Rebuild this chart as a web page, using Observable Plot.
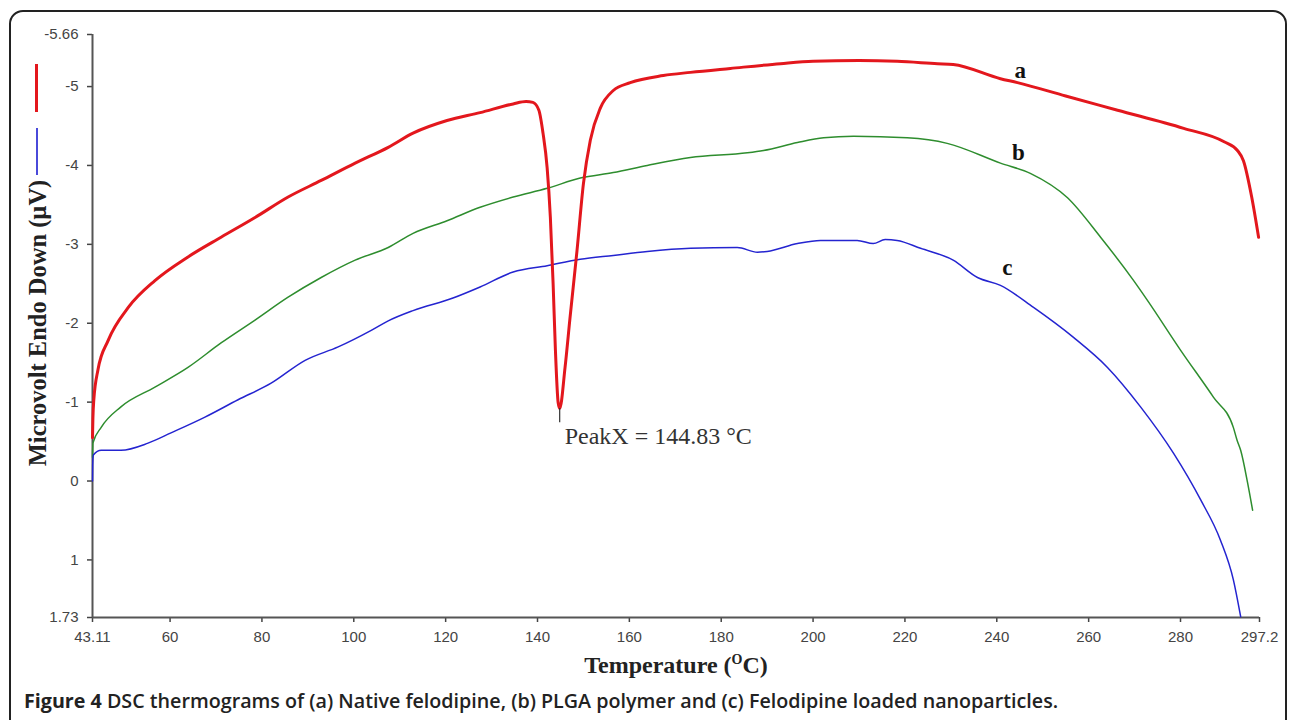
<!DOCTYPE html>
<html>
<head>
<meta charset="utf-8">
<script src="https://cdn.jsdelivr.net/npm/d3@7"></script>
<script src="https://cdn.jsdelivr.net/npm/@observablehq/plot@0.6"></script>
<style>
  html, body { margin: 0; padding: 0; background: #fff; }
  body { width: 1293px; height: 720px; position: relative; overflow: hidden; }
  #frame { position: absolute; left: 9px; top: 10px; width: 1278px; height: 760px;
           border: 2px solid #222; border-radius: 14px; box-sizing: border-box; }
  #chart { position: absolute; left: 0; top: 0; }
  .leg { position: absolute; }
  #ylabel { position: absolute; left: 38px; top: 323px; transform: translate(-50%, -50%) rotate(-90deg);
            font-family: "Liberation Serif", "Times New Roman", serif; font-weight: bold; font-size: 24.5px;
            color: #222; white-space: nowrap; }
  #xlabel { position: absolute; left: 676px; top: 665px; transform: translate(-50%, -50%);
            font-family: "Liberation Serif", "Times New Roman", serif; font-weight: bold; font-size: 24px;
            color: #222; white-space: nowrap; }
  #xlabel sup { font-size: 14px; vertical-align: 9px; line-height: 0; }
  #caption { position: absolute; left: 24px; top: 687px; font-family: "Open Sans", "Noto Sans", sans-serif;
             font-size: 19.7px; font-weight: 600; color: #222; white-space: nowrap; }
  #caption b { font-weight: 700; }
</style>
</head>
<body>
<div id="frame"></div>
<div id="chart"></div>
<div class="leg" style="left:35px;top:64px;width:3px;height:48px;background:#e3171d;"></div>
<div class="leg" style="left:36px;top:128px;width:1.5px;height:47px;background:#4a4ada;"></div>
<div id="ylabel">Microvolt Endo Down (µV)</div>
<div id="xlabel">Temperature (<sup>O</sup>C)</div>
<div id="caption"><b>Figure 4</b> DSC thermograms of (a) Native felodipine, (b) PLGA polymer and (c) Felodipine loaded nanoparticles.</div>
<script>
// ---- Data ----
const xTicks = [43.11, 60, 80, 100, 120, 140, 160, 180, 200, 220, 240, 260, 280, 297.2];
const xTickLabels = ["43.11", "60", "80", "100", "120", "140", "160", "180", "200", "220", "240", "260", "280", "297.2"];
const yTicks = [-5.66, -5, -4, -3, -2, -1, 0, 1, 1.73];
const yTickLabels = ["-5.66", "-5", "-4", "-3", "-2", "-1", "0", "1", "1.73"];

// (a) Native felodipine
const tA = [43.11, 43.2, 43.4, 44.3, 46.5, 50.9, 56.7, 63.9, 71.1, 78.5, 85.7, 92.9, 100.3, 107.5, 112.9, 120.3, 127.5, 134.7, 137.5, 139.0, 140.3, 141.2, 142.1, 142.8, 143.4, 143.9, 144.5, 144.83, 146.0, 147.1, 148.6, 150.0, 151.5, 153.7, 156.5, 160.2, 167.4, 173.3, 182, 192.9, 200, 210, 218.3, 227.1, 230.5, 240.8, 244.5, 255, 266.3, 280.7, 289.5, 292.4, 293.7, 295.5, 297.0];
const vA = [-0.55, -0.8, -1.03, -1.41, -1.78, -2.2, -2.54, -2.84, -3.09, -3.34, -3.6, -3.81, -4.03, -4.23, -4.41, -4.57, -4.67, -4.78, -4.81, -4.80, -4.70, -4.41, -3.97, -3.34, -2.5, -1.66, -0.99, -0.92, -1.44, -2.08, -2.92, -3.77, -4.32, -4.73, -4.95, -5.05, -5.14, -5.18, -5.23, -5.29, -5.32, -5.33, -5.32, -5.29, -5.28, -5.1, -5.05, -4.88, -4.70, -4.47, -4.30, -4.19, -4.06, -3.6, -3.09];

// (b) PLGA polymer
const tB = [43.11, 43.2, 45.0, 49.3, 56.7, 63.9, 71.1, 78.5, 85.7, 92.9, 100.3, 107.5, 112.9, 120.3, 127.5, 134.7, 142.1, 149.3, 156.5, 163.9, 173.3, 185.7, 189.2, 196.6, 202.3, 208.8, 220.5, 229.2, 240.8, 247.3, 255.4, 262.6, 269.8, 272.8, 280.0, 287.2, 291.5, 292.3, 293.1, 294.6, 295.7];
const vB = [-0.3, -0.48, -0.68, -0.94, -1.19, -1.44, -1.75, -2.04, -2.33, -2.58, -2.80, -2.96, -3.14, -3.30, -3.47, -3.60, -3.71, -3.84, -3.91, -4.00, -4.10, -4.16, -4.19, -4.29, -4.35, -4.37, -4.35, -4.28, -4.03, -3.90, -3.59, -3.09, -2.54, -2.29, -1.66, -1.06, -0.68, -0.52, -0.39, 0.02, 0.37];

// (c) Felodipine loaded nanoparticles
const tC = [43.11, 43.15, 43.3, 45.0, 49.3, 55.2, 60.2, 67.6, 74.8, 82.0, 89.4, 96.6, 103.8, 107.5, 112.9, 121.6, 127.5, 134.7, 142.1, 149.3, 156.5, 163.9, 173.3, 183.5, 187.9, 190.0, 196.6, 201.6, 209.6, 213.1, 215.7, 218.3, 223.4, 230.5, 235.8, 240.8, 248.0, 256.7, 264.1, 271.3, 278.5, 284.4, 288.7, 291.5, 293.1];
const vC = [0.0, -0.2, -0.33, -0.39, -0.39, -0.48, -0.61, -0.81, -1.03, -1.24, -1.53, -1.70, -1.91, -2.03, -2.16, -2.32, -2.46, -2.65, -2.73, -2.81, -2.86, -2.91, -2.95, -2.96, -2.90, -2.91, -3.01, -3.05, -3.05, -3.01, -3.06, -3.05, -2.95, -2.80, -2.58, -2.48, -2.20, -1.82, -1.44, -0.94, -0.35, 0.24, 0.75, 1.25, 1.72];

const curveLabels = ["a", "b", "c"];
const curveLabelT = [245.1, 244.7, 242.3];
const curveLabelV = [-5.20, -4.16, -2.70];

const peakT = 144.83;
const peakV = [-0.92, -0.74];
const peakText = "PeakX = 144.83 °C";

// ---- Build tables ----
const toRows = (ts, vs) => ts.map((t, i) => ({t, v: vs[i]}));
const rowsA = toRows(tA, vA), rowsB = toRows(tB, vB), rowsC = toRows(tC, vC);
const labelRows = curveLabels.map((s, i) => ({s, t: curveLabelT[i], v: curveLabelV[i]}));
const xFmt = new Map(xTicks.map((d, i) => [d, xTickLabels[i]]));
const yFmt = new Map(yTicks.map((d, i) => [d, yTickLabels[i]]));

const chart = Plot.plot({
  width: 1293,
  height: 680,
  marginLeft: 92,
  marginRight: 34,
  marginTop: 34,
  marginBottom: 63,
  style: {fontFamily: "'Liberation Sans', Arial, sans-serif", fontSize: "15px", background: "transparent", overflow: "visible"},
  x: {domain: [43.11, 297.2]},
  y: {domain: [1.73, -5.66]},
  marks: [
    Plot.axisX({ticks: xTicks, tickFormat: d => xFmt.get(d), tickSize: 5, tickPadding: 9, label: null, color: "#444", strokeWidth: 1.5}),
    Plot.axisY({ticks: yTicks, tickFormat: d => yFmt.get(d), tickSize: 5, tickPadding: 9, label: null, color: "#444", strokeWidth: 1.5}),
    Plot.ruleX([43.11], {stroke: "#555", strokeWidth: 2}),
    Plot.ruleY([1.73], {stroke: "#555", strokeWidth: 2}),
    Plot.line(rowsB, {x: "t", y: "v", stroke: "#2e8d2e", strokeWidth: 1.5, curve: "monotone-x"}),
    Plot.line(rowsC, {x: "t", y: "v", stroke: "#2424d0", strokeWidth: 1.5, curve: "monotone-x"}),
    Plot.line(rowsA, {x: "t", y: "v", stroke: "#e3171d", strokeWidth: 3, curve: "monotone-x"}),
    Plot.ruleX([peakT], {y1: peakV[0], y2: peakV[1], stroke: "#333", strokeWidth: 1.2}),
    Plot.text([peakText], {x: peakT, y: peakV[1], text: d => d, dx: 5, dy: 14, textAnchor: "start",
      fontFamily: "'Liberation Serif', 'Times New Roman', serif", fontSize: 24, fill: "#333"}),
    Plot.text(labelRows, {x: "t", y: "v", text: "s", fontFamily: "'Liberation Serif', 'Times New Roman', serif",
      fontWeight: "bold", fontSize: 23, fill: "#111"})
  ]
});
document.getElementById("chart").appendChild(chart);
</script>
</body>
</html>
